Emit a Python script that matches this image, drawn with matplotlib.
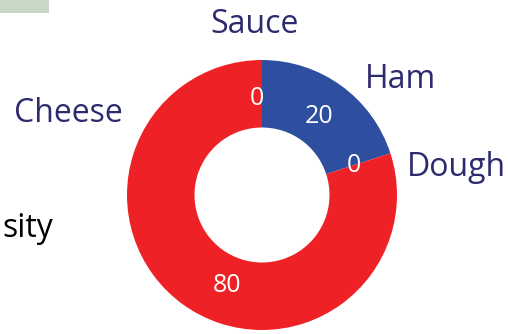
import numpy as np
import matplotlib.pyplot as plt

# pizza topping shares
toppings = ["Sauce", "Ham", "Dough", "Cheese"]
shares = [0, 20, 0, 80]
colors = ["#EE2226", "#2E4FA0", "#EE2226", "#EE2226"]

label_color = "#2D2B6E"
plt.rcParams["font.family"] = ["Open Sans", "DejaVu Sans"]

W, H = 508, 334
fig = plt.figure(figsize=(W / 100, H / 100), dpi=100)
ax = fig.add_axes([0, 0, 1, 1])

cx, cy, r_out = 262, H - 195, 135
wedges, _ = ax.pie(shares, colors=colors, startangle=90, counterclock=False,
                   radius=r_out, center=(cx, cy), frame=True,
                   wedgeprops=dict(width=r_out * 0.5, linewidth=0))
ax.set_xlim(0, W)
ax.set_ylim(0, H)
ax.set_aspect("equal")
ax.axis("off")

# value labels sit in the ring; cheese label is nudged toward the bottom
angle_shift = [3, 0, 0, 15]
for w, v, d in zip(wedges, shares, angle_shift):
    a = np.deg2rad((w.theta1 + w.theta2) / 2 + d)
    ax.text(cx + 97 * np.cos(a), cy + 97 * np.sin(a), str(v), color="white",
            fontsize=18, ha="center", va="center")

# category names outside the ring (pixel x, baseline y from the top)
name_pos = [(254, 33), (400, 88), (456, 176), (68, 122)]
for name, (x, y) in zip(toppings, name_pos):
    ax.text(x, H - y, name, color=label_color, fontsize=23,
            ha="center", va="baseline")

ax.text(2, H - 237, "sity", color="black", fontsize=23, ha="left", va="baseline")
ax.add_patch(plt.Rectangle((0, H - 13), 49, 13, color="#C8D7C6", lw=0))

fig.savefig("out.png", dpi=100)
